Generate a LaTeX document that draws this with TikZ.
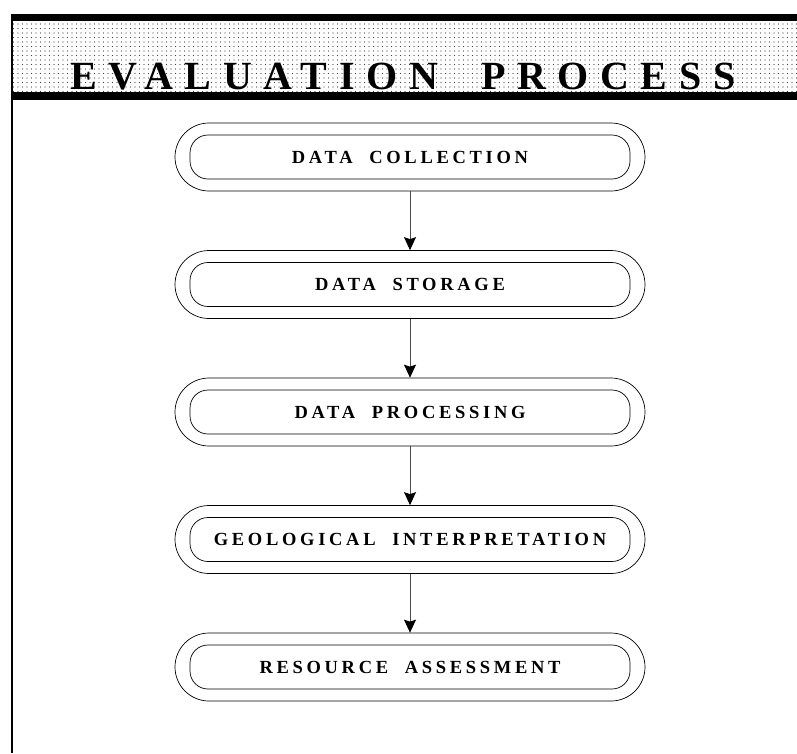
\documentclass[tikz,border=0pt]{standalone}
\usepackage{fontspec}
\setmainfont{Liberation Serif}
\newfontfamily\headfont[LetterSpace=29,WordSpace=2]{Liberation Serif}
\newfontfamily\stagefont[LetterSpace=20,WordSpace=2]{Liberation Serif}
\usepackage{tikz}
\usetikzlibrary{positioning, arrows.meta, shapes.misc, patterns.meta}

\begin{document}
\begin{tikzpicture}[x=1pt,y=-1pt,node distance=127.5pt,on grid,
    ring/.style={rounded rectangle,draw,line width=0.7pt,minimum width=470pt,minimum height=68pt,inner sep=0pt},
    core/.style={draw,line width=0.7pt,rounded corners=18pt,minimum width=440pt,minimum height=44pt,inner sep=0pt,
      font={\stagefont\bfseries\fontsize{18.5}{19}\selectfont}},
    flow/.style={draw=black!70,line width=0.9pt,-{Stealth[length=13pt,width=12pt,inset=2pt,black]}}]
  \useasboundingbox (0,0) rectangle (797,753);

  % title band
  \fill[pattern={Dots[distance=4.5pt,radius=0.55pt]},pattern color=black!75] (11,21) rectangle (797,92);
  \fill (11,14) rectangle (797,21);
  \fill (11,92) rectangle (797,100);
  \draw[line width=2pt] (12,14) -- (12,753);
  \node[anchor=base,inner sep=0pt,font={\headfont\bfseries\fontsize{40}{40}\selectfont}] (title) at (403,89) {EVALUATION PROCESS};

  % stages
  \node[ring] (coll) at (410,157) {};
  \node[ring] (stor) [below=of coll] {};
  \node[ring] (proc) [below=of stor] {};
  \node[ring] (geol) [below=of proc] {};
  \node[ring] (asse) [below=of geol] {};

  \node[core] (coll-t) at (coll) {DATA COLLECTION};
  \node[core] (stor-t) at (stor) {DATA STORAGE};
  \node[core] (proc-t) at (proc) {DATA PROCESSING};
  \node[core] (geol-t) at (geol) {GEOLOGICAL INTERPRETATION};
  \node[core] (asse-t) at (asse) {RESOURCE ASSESSMENT};

  \path[flow]
    (coll) edge (stor)
    (stor) edge (proc)
    (proc) edge (geol)
    (geol) edge (asse);
\end{tikzpicture}
\end{document}
